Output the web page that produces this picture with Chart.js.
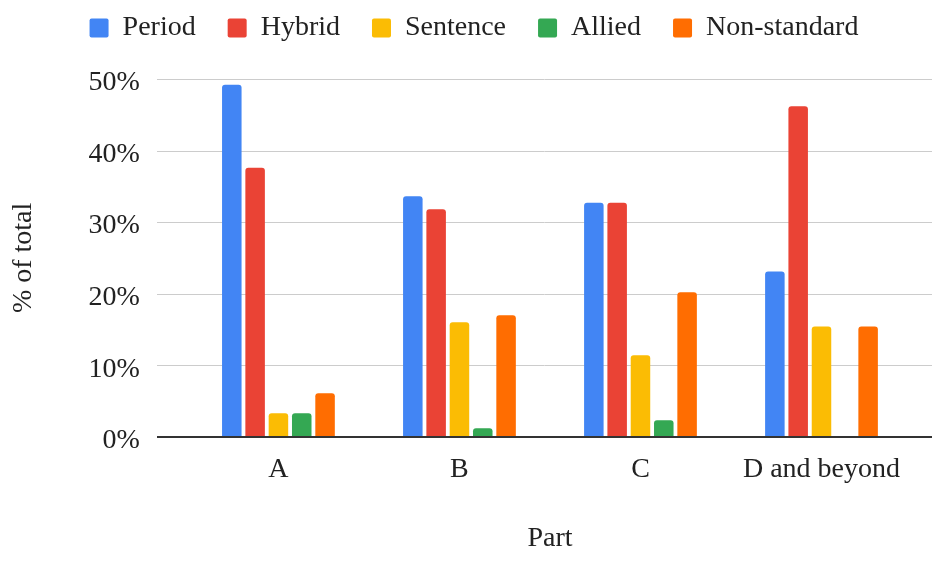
<!DOCTYPE html>
<html>
<head>
<meta charset="utf-8">
<script src="https://cdn.jsdelivr.net/npm/chart.js@4"></script>
<style>
  html, body { margin: 0; padding: 0; background: #fff; }
  #wrap { width: 932px; height: 561px; }
</style>
</head>
<body>
<div id="wrap"><canvas id="chart"></canvas></div>
<script>
const parts = ['A', 'B', 'C', 'D and beyond'];
const period = [49.2, 33.6, 32.7, 23.1];
const hybrid = [37.6, 31.8, 32.7, 46.2];
const sentence = [3.3, 16.0, 11.4, 15.4];
const allied = [3.3, 1.2, 2.3, 0];
const nonStandard = [6.1, 17.0, 20.2, 15.4];
const yTicks = [0, 10, 20, 30, 40, 50];

const FONT = "'Liberation Serif', 'Times New Roman', serif";

// gridlines run wider than the bar area, like in the original
const wideGrid = {
    id: 'wideGrid',
    afterLayout(chart) {
        // nudge the legend up and a bit right
        const l = chart.legend;
        l.left += 16; l.right += 16;
        l.top -= 27; l.bottom -= 27;
    },
    beforeDatasetsDraw(chart) {
        const ctx = chart.ctx, y = chart.scales.y;
        ctx.save();
        ctx.strokeStyle = '#cccccc';
        ctx.lineWidth = 1;
        yTicks.forEach(t => {
            if (t === 0) return;
            const py = Math.round(y.getPixelForValue(t)) + 0.5;
            ctx.beginPath(); ctx.moveTo(157, py); ctx.lineTo(chart.width, py); ctx.stroke();
        });
        ctx.restore();
    },
    afterDatasetsDraw(chart) {
        const ctx = chart.ctx, y = chart.scales.y;
        const py = Math.round(y.getPixelForValue(0));
        ctx.save();
        ctx.strokeStyle = '#333333';
        ctx.lineWidth = 2;
        ctx.beginPath(); ctx.moveTo(157, py); ctx.lineTo(chart.width, py); ctx.stroke();
        ctx.restore();
    }
};

const ds = (label, data, color) => ({
    label, data, backgroundColor: color, borderWidth: 0, borderRadius: 3,
    categoryPercentage: 0.644, barPercentage: 0.837
});

new Chart(document.getElementById('chart'), {
    type: 'bar',
    data: {
        labels: parts,
        datasets: [
            ds('Period', period, '#4285f4'),
            ds('Hybrid', hybrid, '#ea4335'),
            ds('Sentence', sentence, '#fbbc04'),
            ds('Allied', allied, '#34a853'),
            ds('Non-standard', nonStandard, '#ff6d01')
        ]
    },
    options: {
        responsive: true,
        maintainAspectRatio: false,
        animation: false,
        layout: { padding: { left: 4, right: 20, top: 9, bottom: 0 } },
        plugins: {
            legend: {
                position: 'top',
                labels: {
                    boxWidth: 19, boxHeight: 19, padding: 32,
                    useBorderRadius: true, borderRadius: 2,
                    color: '#222', font: { family: FONT, size: 28 }
                }
            },
            tooltip: { enabled: false }
        },
        scales: {
            x: {
                grid: { display: false, drawTicks: false, tickLength: 0 },
                border: { display: false },
                ticks: { color: '#222', padding: 16, font: { family: FONT, size: 28 } },
                title: { display: true, text: 'Part', color: '#222', padding: { top: 19, bottom: 6 }, font: { family: FONT, size: 28 } }
            },
            y: {
                min: 0, max: 50,
                grid: { display: false, drawTicks: false, tickLength: 0 },
                border: { display: false },
                afterBuildTicks: s => { s.ticks = yTicks.map(v => ({ value: v })); },
                ticks: { color: '#222', padding: 48, labelOffset: 4, callback: v => v + '%', font: { family: FONT, size: 28 } },
                title: { display: true, text: '% of total', color: '#222', padding: { top: 3, bottom: 0 }, font: { family: FONT, size: 28 } }
            }
        }
    },
    plugins: [wideGrid]
});
</script>
</body>
</html>
